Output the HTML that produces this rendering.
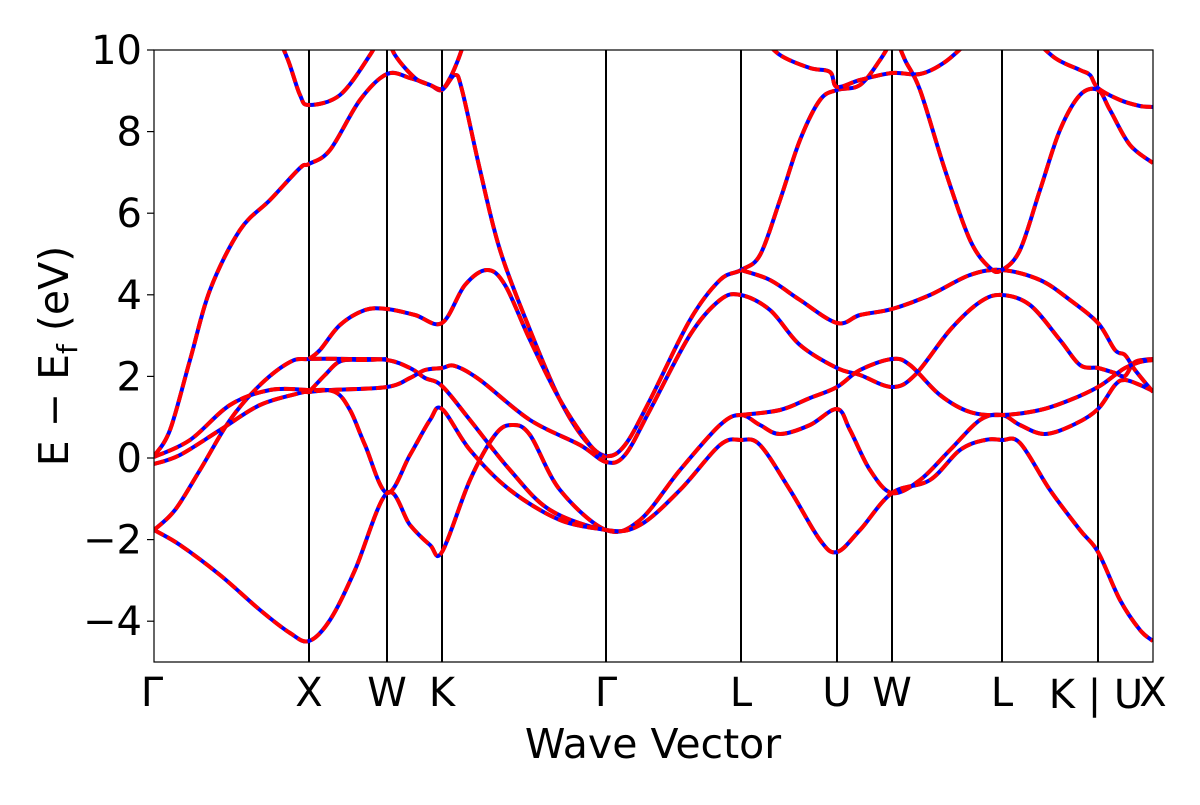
<!DOCTYPE html>
<html><head><meta charset="utf-8"><style>
html,body{margin:0;padding:0;background:#fff}
svg text{font-family:"DejaVu Sans","Liberation Sans",sans-serif;fill:#000}
</style></head><body>
<svg id="s" width="1200" height="800" viewBox="0 0 1200 800" xmlns="http://www.w3.org/2000/svg">
<defs><clipPath id="c"><rect x="154" y="50" width="999" height="612"/></clipPath></defs>
<rect width="1200" height="800" fill="#fff"/>
<g id="vl" stroke="#000" stroke-width="2">
<line x1="309" y1="50" x2="309" y2="662"/><line x1="387" y1="50" x2="387" y2="662"/>
<line x1="442" y1="50" x2="442" y2="662"/><line x1="606" y1="50" x2="606" y2="662"/>
<line x1="741" y1="50" x2="741" y2="662"/><line x1="837" y1="50" x2="837" y2="662"/>
<line x1="892" y1="50" x2="892" y2="662"/><line x1="1002" y1="50" x2="1002" y2="662"/>
<line x1="1098" y1="50" x2="1098" y2="662"/>
</g>
<g id="bands" clip-path="url(#c)"></g>
<rect x="154" y="50" width="999" height="612" fill="none" stroke="#000" stroke-width="1.2"/>
<g stroke="#000" stroke-width="1.2">
<line x1="147" y1="50" x2="154" y2="50"/><line x1="147" y1="131.6" x2="154" y2="131.6"/>
<line x1="147" y1="213.2" x2="154" y2="213.2"/><line x1="147" y1="294.8" x2="154" y2="294.8"/>
<line x1="147" y1="376.4" x2="154" y2="376.4"/><line x1="147" y1="458" x2="154" y2="458"/>
<line x1="147" y1="539.6" x2="154" y2="539.6"/><line x1="147" y1="621.2" x2="154" y2="621.2"/>
</g>
<g font-size="40" text-anchor="end">
<text x="142" y="64">10</text><text x="142" y="145.6">8</text><text x="142" y="227.2">6</text>
<text x="142" y="308.8">4</text><text x="142" y="390.4">2</text><text x="142" y="472">0</text>
<text x="142" y="553.6">−2</text><text x="142" y="635.2">−4</text>
</g>
<g font-size="40" text-anchor="middle">
<text x="152" y="706">Γ</text><text x="309" y="706">X</text><text x="387" y="706">W</text>
<text x="442" y="706">K</text><text x="606" y="706">Γ</text><text x="741" y="706">L</text>
<text x="837" y="706">U</text><text x="892" y="706">W</text><text x="1002" y="706">L</text>
<text x="1096" y="708">K | U</text><text x="1153" y="706">X</text>
</g>
<text x="653" y="758" font-size="41" text-anchor="middle">Wave Vector</text>
<text transform="translate(68,356) rotate(-90)" font-size="41" text-anchor="middle">E − E<tspan font-size="28" dy="9">f</tspan><tspan dy="-9"> (eV)</tspan></text>
</svg>
<script>
var B=[
[[154,530],[180,545],[220,575],[260,610],[290,633],[309,641],[330,620],[355,570],[387,493],[410,525],[430,545],[442,552],[470,480],[495,435],[512,425],[530,435],[560,490],[606,530],[640,520],[680,470],[720,425],[741,415],[760,425],[780,434],[810,425],[837,409],[850,430],[870,470],[892,493],[920,480],[950,450],[980,420],[1002,415],[1020,425],[1045,434],[1075,424],[1098,409],[1115,385],[1125,380],[1140,385],[1153,391]],
[[154,530],[175,510],[200,470],[230,420],[260,385],[290,362],[309,359],[350,359],[387,360],[410,368],[425,378],[442,386],[470,420],[510,470],[550,510],[606,530],[640,525],[680,490],[720,445],[741,440],[760,445],[790,490],[820,540],[837,552],[860,530],[892,493],[930,480],[960,450],[985,440],[1002,440],[1020,443],[1050,490],[1080,530],[1098,552],[1120,600],[1140,630],[1153,641]],
[[154,464],[180,455],[220,430],[260,405],[300,393],[309,392],[330,390],[387,387],[410,378],[425,370],[442,368],[455,366],[480,380],[530,420],[580,445],[606,462],[625,455],[650,410],[690,335],[720,300],[741,295],[770,310],[800,345],[837,368],[860,375],[892,387],[915,375],[950,330],[980,302],[1002,295],[1030,305],[1060,340],[1080,365],[1098,368],[1115,373],[1125,376],[1135,362],[1153,359]],
[[154,457],[190,440],[230,405],[270,390],[309,390],[335,392],[350,410],[365,445],[387,493],[410,455],[430,420],[442,409],[470,450],[510,490],[560,520],[606,530]],
[[154,456],[170,430],[190,360],[210,290],[240,230],[270,200],[300,168],[309,164],[330,150],[360,100],[387,74],[410,78],[430,85],[442,90],[455,75],[462,90],[480,170],[500,250],[530,330],[560,400],[585,440],[606,456],[625,445],[650,400],[690,320],[720,280],[741,270],[760,255],[780,200],[800,140],[820,100],[837,90],[860,85],[880,60],[892,40]],
[[309,392],[325,375],[341,361],[365,360],[387,359]],
[[309,359],[320,350],[340,325],[365,310],[387,309],[415,315],[442,323],[465,285],[487,270],[505,285],[530,340],[560,400],[590,445],[606,458]],
[[741,270],[770,280],[800,300],[837,323],[860,315],[892,309],[930,295],[970,275],[1002,270],[1040,280],[1070,300],[1098,323],[1115,350],[1125,355],[1135,370],[1153,392]],
[[741,415],[780,410],[810,398],[837,387],[860,370],[892,359],[910,365],[940,395],[970,412],[1002,415],[1040,410],[1070,400],[1098,387],[1115,375],[1125,368],[1140,362],[1153,360]],
[[275,30],[288,60],[300,95],[309,105],[340,95],[370,55],[380,35]],
[[385,30],[395,55],[415,78],[430,85],[442,89],[450,78],[458,60],[465,40]],
[[760,35],[780,55],[810,68],[830,72],[837,87],[860,80],[892,73],[920,74],[945,62],[970,40]],
[[895,35],[905,60],[920,90],[945,170],[970,240],[990,268],[1002,270],[1020,250],[1040,190],[1060,130],[1080,95],[1098,90],[1110,110],[1130,145],[1153,163]],
[[1030,35],[1055,58],[1080,70],[1090,75],[1098,88],[1120,100],[1140,106],[1153,107]]
];
function cr(p){var d="M"+p[0][0]+","+p[0][1];for(var i=0;i<p.length-1;i++){var a=p[i-1]||p[i],b=p[i],c=p[i+1],e=p[i+2]||c;d+=" C"+(b[0]+(c[0]-a[0])/6).toFixed(1)+","+(b[1]+(c[1]-a[1])/6).toFixed(1)+" "+(c[0]-(e[0]-b[0])/6).toFixed(1)+","+(c[1]-(e[1]-b[1])/6).toFixed(1)+" "+c[0]+","+c[1];}return d;}
var g=document.getElementById("bands"),h="";
B.forEach(function(p){var d=cr(p);h+='<path d="'+d+'" fill="none" stroke="#0000ff" stroke-width="4"/><path d="'+d+'" fill="none" stroke="#ff0000" stroke-width="4" stroke-dasharray="11 4"/>';});
g.innerHTML=h;
</script>
</body></html>
